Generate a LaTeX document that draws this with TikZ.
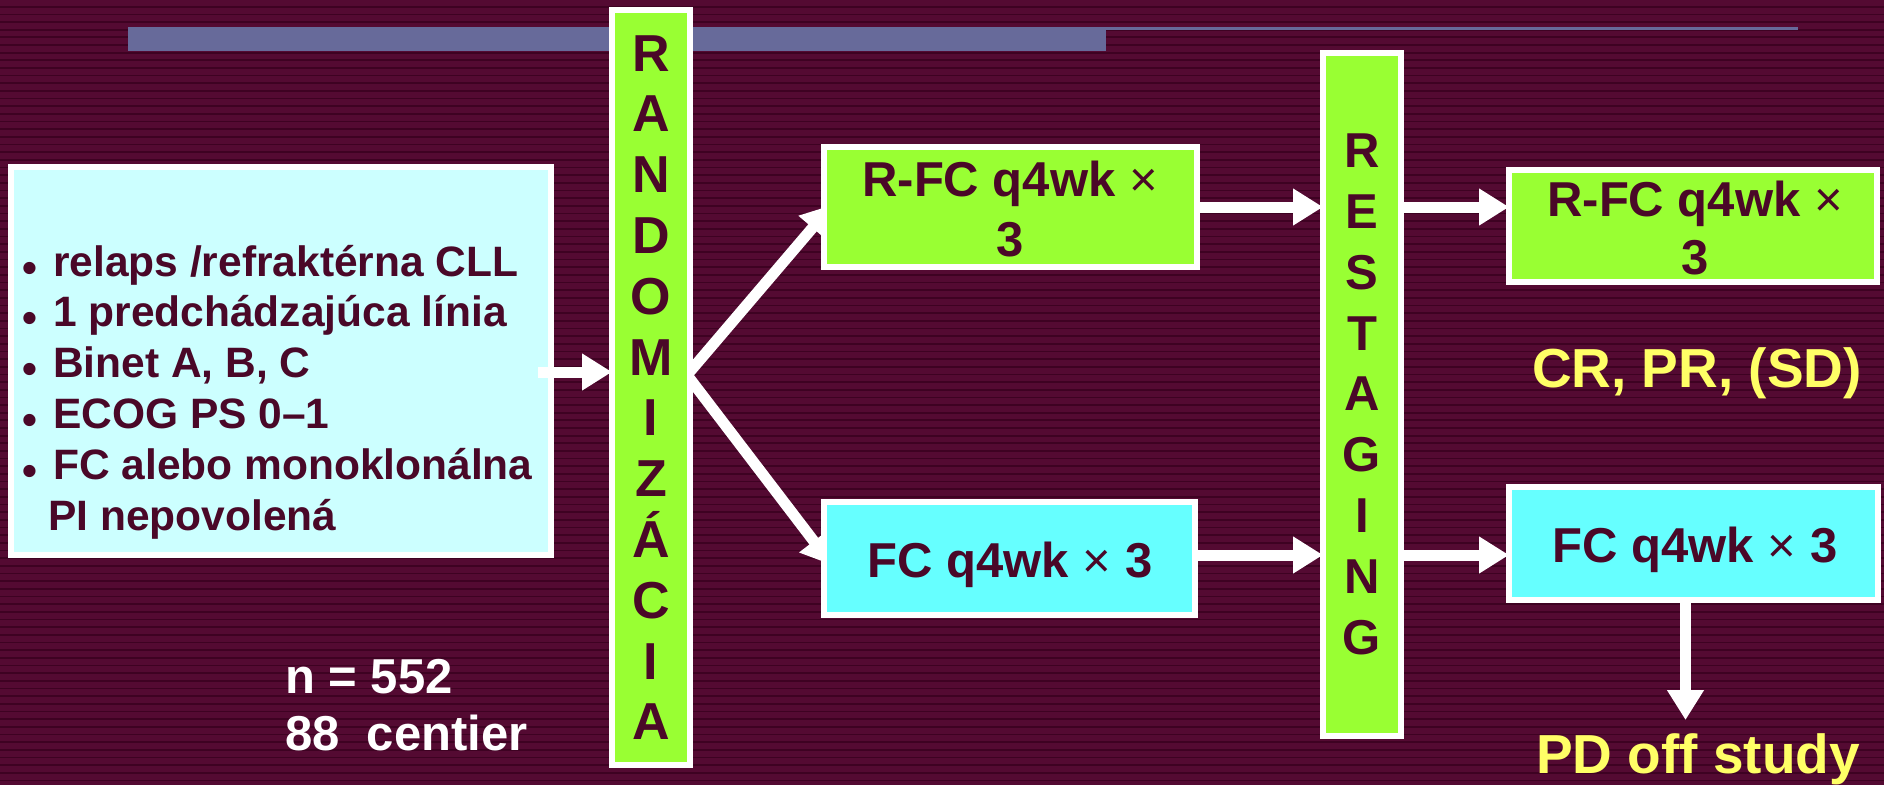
\documentclass[tikz,border=0pt]{standalone}
\usepackage{fontspec}
\setmainfont{Liberation Sans}
\usetikzlibrary{arrows.meta}
\definecolor{slidebg}{RGB}{84,10,50}
\definecolor{stripe}{RGB}{62,2,34}
\definecolor{barblue}{RGB}{103,106,154}
\definecolor{limegreen}{RGB}{153,255,51}
\definecolor{palecyan}{RGB}{204,255,255}
\definecolor{brightcyan}{RGB}{102,255,255}
\definecolor{inkmaroon}{RGB}{74,8,40}
\definecolor{lemon}{RGB}{255,255,102}
\pgfdeclarelayer{bgl}
\pgfdeclarelayer{under}
\pgfsetlayers{bgl,under,main}
\newcommand\bul{\llap{\raisebox{-6pt}{•}\hspace{15.6pt}}}
\newcommand\tms{{\mdseries ×}}
\begin{document}
\begin{tikzpicture}[x=1pt,y=-1pt,
  box/.style={draw=white, line width=6pt, inner sep=0pt, outer sep=0pt},
  fat/.style={draw=white, line width=11pt, -{Triangle[length=30pt,width=35pt]}},
  boxtext/.style={text=inkmaroon, font=\fontsize{49}{60}\selectfont\bfseries, inner sep=0pt, anchor=base},
  vlet/.style={text=inkmaroon, inner sep=0pt, anchor=base},
  listline/.style={text=inkmaroon, font=\fontsize{42.5}{50}\selectfont\bfseries, inner sep=0pt, anchor=base west},
  note/.style={font=\fontsize{55}{60}\selectfont\bfseries, text=lemon, inner sep=0pt, anchor=base},
  count/.style={font=\fontsize{49}{57}\selectfont\bfseries, text=white, inner sep=0pt, anchor=base west}]
\useasboundingbox (0,0) rectangle (1884,785);

% striped slide background and title bar
\begin{pgfonlayer}{bgl}
\fill[slidebg] (0,0) rectangle (1884,785);
\foreach \k in {0,...,101}
  \fill[stripe] (0,{5.85+7.66*\k}) rectangle (1884,{7.55+7.66*\k});
\fill[barblue] (128,27) rectangle (1106,51);
\fill[barblue] (1106,27) rectangle (1798,29.5);
\end{pgfonlayer}

% inclusion criteria
\node[box, fill=palecyan, minimum width=540pt, minimum height=388pt] (crit) at (281,361) {};
\node[listline] (c1) at (53,276) {\bul relaps /refraktérna CLL};
\node[listline] (c2) at (53,326.8) {\bul 1 predchádzajúca línia};
\node[listline] (c3) at (53,377.6) {\bul Binet A, B, C};
\node[listline] (c4) at (53,428.4) {\bul ECOG PS 0–1};
\node[listline] (c5) at (53,479.2) {\bul FC alebo monoklonálna};
\node[listline] (c6) at (48,530) {PI nepovolená};

\node[count] (n1) at (285,693) {n = 552};
\node[count] (n2) at (285,750) {88\ \ centier};

% randomisation column
\node[box, fill=limegreen, minimum width=78pt, minimum height=755pt] (rand) at (651,387.5) {};
\foreach \c [count=\i from 0] in {R,A,N,D,O,M,I,Z,Á,C,I,A}
  \node[vlet, font=\fontsize{52}{52}\selectfont\bfseries] (rl\i) at (651,{71+60.8*\i}) {\c};

% restaging column
\node[box, fill=limegreen, minimum width=78pt, minimum height=683pt] (rest) at (1362,394.5) {};
\foreach \c [count=\i from 0] in {R,E,S,T,A,G,I,N,G}
  \node[vlet, font=\fontsize{49}{49}\selectfont\bfseries] (sl\i) at (1362,{167.6+60.8*\i}) {\c};

% treatment arms
\node[box, fill=limegreen, minimum width=373pt, minimum height=120pt] (armA) at (1010.5,207) {};
\node[boxtext] (armA1) at (1010,196) {R-FC q4wk \tms};
\node[boxtext] (armA2) at (1010,256) {3};
\node[box, fill=brightcyan, minimum width=371pt, minimum height=113pt] (armB) at (1009.5,558.5) {};
\node[boxtext] (armB1) at (1010,577) {FC q4wk \tms{} 3};

\node[box, fill=limegreen, minimum width=368pt, minimum height=112pt] (contA) at (1693,226) {};
\node[boxtext] (contA1) at (1695,216) {R-FC q4wk \tms};
\node[boxtext] (contA2) at (1695,274) {3};
\node[box, fill=brightcyan, minimum width=369pt, minimum height=113pt] (contB) at (1693.5,543.5) {};
\node[boxtext] (contB1) at (1695,562) {FC q4wk \tms{} 3};

\node[note] (resp) at (1697,387) {CR, PR, (SD)};
\node[note] (pd) at (1698,773) {PD off study};

% connectors
\coordinate (entry) at (538,372);
\coordinate (split) at (687,375);
\coordinate (tipA) at (832,205);
\coordinate (tipB) at (832,565);
\coordinate (pdtip) at (1685.5,720);
\begin{pgfonlayer}{under}
\draw[fat] (split) -- (tipA);
\draw[fat] (split) -- (tipB);
\end{pgfonlayer}
\draw[fat] (entry) -- (rand.west |- entry);
\draw[fat] (armA.east |- 0,207) -- (rest.west |- 0,207);
\draw[fat] (armB.east |- 0,555) -- (rest.west |- 0,555);
\draw[fat] (rest.east |- 0,207) -- (contA.west |- 0,207);
\draw[fat] (rest.east |- 0,555) -- (contB.west |- 0,555);
\draw[fat] (contB.south -| pdtip) -- (pdtip);
\end{tikzpicture}
\end{document}
